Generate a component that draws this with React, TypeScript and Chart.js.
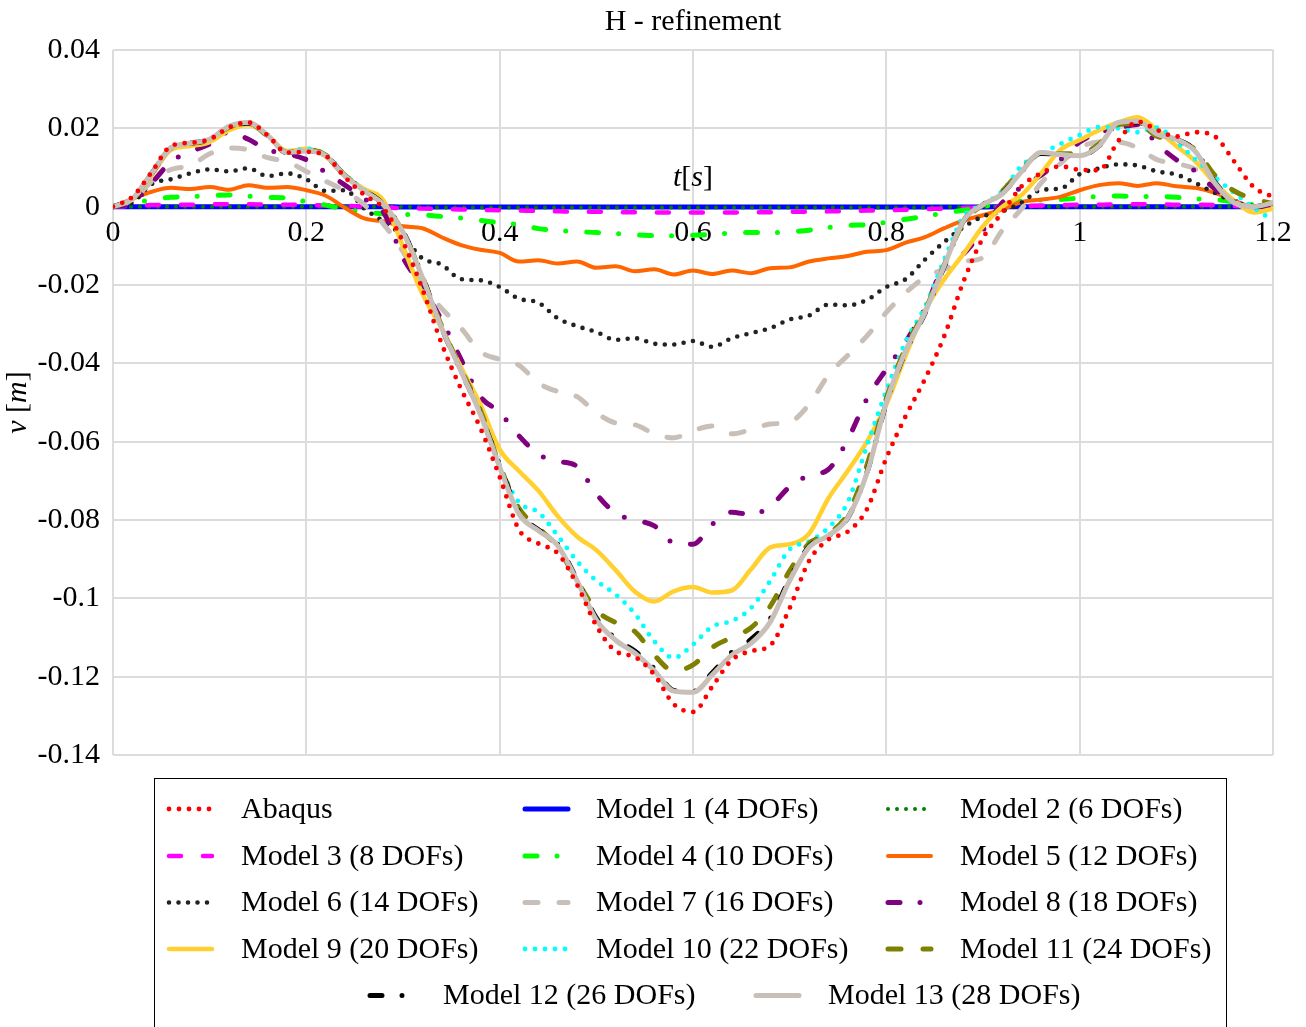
import React, { useEffect, useRef } from "react";
import { Chart, registerables } from "chart.js";

Chart.register(...registerables);

// ---------------- DATA ----------------
const TIME = [
  0, 0.02, 0.04, 0.06, 0.08, 0.1, 0.12, 0.14, 0.16, 0.18,
  0.2, 0.22, 0.24, 0.26, 0.28, 0.3, 0.32, 0.34, 0.36, 0.38,
  0.4, 0.42, 0.44, 0.46, 0.48, 0.5, 0.52, 0.54, 0.56, 0.58,
  0.6, 0.62, 0.64, 0.66, 0.68, 0.7, 0.72, 0.74, 0.76, 0.78,
  0.8, 0.82, 0.84, 0.86, 0.88, 0.9, 0.92, 0.94, 0.96, 0.98,
  1, 1.02, 1.04, 1.06, 1.08, 1.1, 1.12, 1.14, 1.16, 1.18, 1.2,
];

const ABAQUS = [
  0, 0.0025, 0.0088, 0.0155, 0.0163, 0.0172, 0.0202, 0.0215, 0.0182, 0.0138,
  0.014, 0.013, 0.0075, 0.003, -0.0005, -0.009, -0.021, -0.035, -0.0465, -0.0565,
  -0.069, -0.0825, -0.086, -0.0885, -0.0965, -0.107, -0.1135, -0.115, -0.1195, -0.127,
  -0.129, -0.1225, -0.1158, -0.1135, -0.112, -0.1025, -0.0905, -0.085, -0.083, -0.0772,
  -0.0642, -0.0535, -0.044, -0.033, -0.019, -0.008, -0.0015, 0.0052, 0.0085, 0.0103,
  0.0094, 0.0093, 0.0168, 0.0217, 0.0196, 0.0179, 0.019, 0.0179, 0.0115, 0.005, 0.0025,
];

const MODEL_1 = [
  0, 0, 0, 0, 0, 0, 0, 0, 0, 0,
  0, 0, 0, 0, 0, -0.0001, -0.0001, -0.0001, -0.0001, -0.0001,
  -0.0001, -0.0001, -0.0001, -0.0001, -0.0001, -0.0001, -0.0001, -0.0001, -0.0001, -0.0001,
  -0.0001, -0.0001, -0.0001, -0.0001, -0.0001, -0.0001, -0.0001, -0.0001, -0.0001, -0.0001,
  -0.0001, -0.0001, -0.0001, -0.0001, -0.0001, -0.0001, 0, 0, 0, 0,
  0, 0, 0, 0, 0, 0, 0, 0, 0, 0, 0,
];

const MODEL_2 = [
  0, 0, 0, 0, 0, 0, 0, 0, 0, 0,
  0, 0, 0, 0, 0, -0.0001, -0.0001, -0.0002, -0.0002, -0.0002,
  -0.0002, -0.0002, -0.0002, -0.0002, -0.0002, -0.0002, -0.0002, -0.0002, -0.0002, -0.0002,
  -0.0002, -0.0002, -0.0002, -0.0002, -0.0002, -0.0002, -0.0002, -0.0002, -0.0002, -0.0002,
  -0.0002, -0.0002, -0.0002, -0.0001, -0.0001, -0.0001, 0, 0, 0, 0,
  0, 0, 0, 0, 0, 0, 0, 0, 0, 0, 0,
];

const MODEL_3 = [
  0, 0.0002, 0.0004, 0.0005, 0.0005, 0.0006, 0.0006, 0.0006, 0.0005, 0.0005,
  0.0004, 0.0003, 0.0002, 0, -0.0002, -0.0004, -0.0005, -0.0006, -0.0007, -0.0008,
  -0.0009, -0.001, -0.0011, -0.0012, -0.0013, -0.0013, -0.0014, -0.0014, -0.0015, -0.0015,
  -0.0015, -0.0015, -0.0015, -0.0014, -0.0014, -0.0013, -0.0013, -0.0012, -0.0011, -0.001,
  -0.0009, -0.0008, -0.0006, -0.0005, -0.0003, -0.0002, 0, 0.0002, 0.0003, 0.0004,
  0.0005, 0.0005, 0.0006, 0.0006, 0.0006, 0.0005, 0.0005, 0.0004, 0.0002, 0.0001, 0,
];

const MODEL_4 = [
  0, 0.0008, 0.0018, 0.0024, 0.0026, 0.0028, 0.003, 0.0027, 0.0024, 0.0022,
  0.0013, 0.0004, -0.0006, -0.0014, -0.0018, -0.002, -0.0021, -0.0025, -0.0029, -0.0035,
  -0.0041, -0.0046, -0.0056, -0.0061, -0.0064, -0.0066, -0.0069, -0.0072, -0.0074, -0.0074,
  -0.0073, -0.0071, -0.0067, -0.0066, -0.0066, -0.0064, -0.006, -0.0053, -0.0048, -0.0046,
  -0.004, -0.0032, -0.0025, -0.0016, -0.0009, 0, 0.0008, 0.0014, 0.0017, 0.0018,
  0.0022, 0.0026, 0.0027, 0.0026, 0.0026, 0.0024, 0.002, 0.0018, 0.0012, 0.0005, 0,
];

const MODEL_5 = [
  0, 0.002, 0.0038, 0.0048, 0.0045, 0.005, 0.0043, 0.0055, 0.0048, 0.005,
  0.0042, 0.0028, -0.0003, -0.003, -0.0038, -0.005, -0.0055, -0.0078, -0.0098, -0.011,
  -0.0118, -0.014, -0.0137, -0.0145, -0.014, -0.0156, -0.0152, -0.0165, -0.016, -0.0173,
  -0.0163, -0.0172, -0.0163, -0.017, -0.0157, -0.0155, -0.014, -0.0132, -0.0126, -0.0115,
  -0.0111, -0.0092, -0.0078, -0.0055, -0.0035, -0.0022, -0.0007, 0.0012, 0.0018, 0.0025,
  0.0042, 0.0055, 0.006, 0.0053, 0.006, 0.0052, 0.0048, 0.0035, 0.0015, 0, 0.001,
];

const MODEL_6 = [
  0, 0.001, 0.0058, 0.007, 0.0085, 0.0095, 0.009, 0.0098, 0.0078, 0.0085,
  0.007, 0.004, 0.0042, -0.0005, -0.0038, -0.0075, -0.0132, -0.0148, -0.0185, -0.0188,
  -0.0205, -0.0235, -0.0245, -0.0285, -0.0305, -0.032, -0.034, -0.0336, -0.035, -0.0352,
  -0.0343, -0.0358, -0.0336, -0.0323, -0.031, -0.0288, -0.0278, -0.025, -0.0252, -0.0238,
  -0.0205, -0.0185, -0.0135, -0.009, -0.0052, -0.0025, -0.0012, 0.001, 0.0043, 0.0046,
  0.0083, 0.0098, 0.0108, 0.0105, 0.009, 0.0082, 0.006, 0.0035, 0.0012, 0.0002, 0,
];

const MODEL_7 = [
  0, 0.0015, 0.0065, 0.0095, 0.0105, 0.0135, 0.015, 0.0145, 0.0125, 0.0115,
  0.009, 0.0065, 0.004, 0.0005, -0.0045, -0.0115, -0.02, -0.026, -0.031, -0.037,
  -0.039, -0.0405, -0.045, -0.0472, -0.0485, -0.0526, -0.0552, -0.0557, -0.058, -0.059,
  -0.0572, -0.056, -0.058, -0.0569, -0.0555, -0.055, -0.0505, -0.043, -0.038, -0.033,
  -0.027, -0.022, -0.018, -0.016, -0.014, -0.013, -0.006, -0.0005, 0.006, 0.011,
  0.015, 0.0165, 0.0165, 0.015, 0.012, 0.011, 0.0095, 0.005, 0.001, 0, 0,
];

const MODEL_8 = [
  0, 0.001, 0.006, 0.0115, 0.014, 0.016, 0.019, 0.0172, 0.0145, 0.0135,
  0.012, 0.0088, 0.0055, 0.002, -0.0015, -0.013, -0.0205, -0.029, -0.039, -0.0485,
  -0.0525, -0.0585, -0.0632, -0.065, -0.0663, -0.0733, -0.0783, -0.08, -0.0815, -0.0858,
  -0.0862, -0.0811, -0.078, -0.0786, -0.0765, -0.0715, -0.0686, -0.0671, -0.0595, -0.049,
  -0.0415, -0.0345, -0.026, -0.015, -0.012, -0.006, 0.001, 0.005, 0.008, 0.012,
  0.0165, 0.0189, 0.02, 0.021, 0.016, 0.012, 0.009, 0.0045, 0.0015, 0, 0,
];

const MODEL_9 = [
  0, 0.0018, 0.008, 0.0145, 0.0155, 0.0165, 0.0195, 0.021, 0.0182, 0.0142,
  0.0148, 0.0128, 0.0078, 0.0045, 0.0015, -0.0102, -0.0222, -0.031, -0.041, -0.0505,
  -0.062, -0.0675, -0.0725, -0.079, -0.0842, -0.0877, -0.0928, -0.0983, -0.1008, -0.0982,
  -0.0971, -0.0985, -0.098, -0.0926, -0.087, -0.0862, -0.0835, -0.0745, -0.0675, -0.06,
  -0.0505, -0.038, -0.0265, -0.0185, -0.012, -0.005, 0, 0.003, 0.0085, 0.0145,
  0.017, 0.0195, 0.0215, 0.0228, 0.0196, 0.0155, 0.0115, 0.006, 0.0015, -0.0015, -0.0005,
];

const MODEL_10 = [
  0, 0.002, 0.0085, 0.015, 0.0161, 0.0172, 0.0204, 0.0214, 0.0182, 0.014,
  0.0148, 0.0133, 0.0082, 0.0042, 0.0005, -0.0068, -0.0185, -0.031, -0.042, -0.0525,
  -0.066, -0.0755, -0.078, -0.084, -0.0905, -0.0955, -0.099, -0.104, -0.111, -0.1152,
  -0.1118, -0.1072, -0.1058, -0.1025, -0.0955, -0.0875, -0.0855, -0.082, -0.0755, -0.061,
  -0.047, -0.0345, -0.0255, -0.0135, -0.0025, 0.0005, 0.004, 0.0105, 0.0135, 0.016,
  0.0183, 0.0203, 0.02, 0.019, 0.0202, 0.0165, 0.012, 0.0075, 0.0035, -0.0003, -0.0035,
];

const MODEL_11 = [
  0, 0.002, 0.0085, 0.015, 0.0161, 0.0171, 0.0203, 0.0213, 0.018, 0.0138,
  0.0145, 0.0132, 0.008, 0.0042, 0.0006, -0.0065, -0.0178, -0.0305, -0.0415, -0.052,
  -0.066, -0.077, -0.082, -0.087, -0.0955, -0.103, -0.1062, -0.1085, -0.1145, -0.1185,
  -0.117, -0.1125, -0.11, -0.1075, -0.102, -0.093, -0.086, -0.0835, -0.0785, -0.066,
  -0.049, -0.036, -0.0265, -0.0148, -0.004, 0.0005, 0.004, 0.0095, 0.0135, 0.0135,
  0.0135, 0.016, 0.021, 0.0212, 0.018, 0.017, 0.0145, 0.008, 0.004, 0.002, 0.0008,
];

const MODEL_12 = [
  0, 0.002, 0.0085, 0.015, 0.0162, 0.0172, 0.0205, 0.0213, 0.0182, 0.0138,
  0.0142, 0.013, 0.0079, 0.0042, 0.0005, -0.0063, -0.0178, -0.031, -0.042, -0.0528,
  -0.066, -0.078, -0.0825, -0.0862, -0.0952, -0.105, -0.1103, -0.1135, -0.118, -0.1235,
  -0.1238, -0.119, -0.1138, -0.1105, -0.1052, -0.095, -0.0868, -0.084, -0.0795, -0.0678,
  -0.0502, -0.037, -0.0272, -0.0152, -0.0036, 0.0005, 0.0034, 0.009, 0.0136, 0.0133,
  0.013, 0.0155, 0.0213, 0.0216, 0.0185, 0.0172, 0.0142, 0.0062, 0.0012, 0, 0.001,
];

const MODEL_13 = [
  0, 0.002, 0.0085, 0.015, 0.0162, 0.0172, 0.0205, 0.0215, 0.0182, 0.0138,
  0.0142, 0.013, 0.0078, 0.004, 0.0005, -0.0065, -0.018, -0.031, -0.042, -0.053,
  -0.0665, -0.0785, -0.0827, -0.0865, -0.0955, -0.1055, -0.1107, -0.114, -0.1185, -0.1237,
  -0.124, -0.1195, -0.1145, -0.1115, -0.106, -0.0955, -0.087, -0.084, -0.0795, -0.068,
  -0.05, -0.0368, -0.027, -0.015, -0.0035, 0.0005, 0.0033, 0.009, 0.0138, 0.0133,
  0.013, 0.0155, 0.0215, 0.0218, 0.0185, 0.0172, 0.014, 0.006, 0.001, 0, 0.001,
];

const X_TICKS = { min: 0, max: 1.2, step: 0.2 };
const Y_TICKS = { min: -0.14, max: 0.04, step: 0.02 };

const TITLE = "H - refinement";

// ---------------- STYLES ----------------
type SeriesStyle = {
  label: string;
  data: number[];
  color: string;
  width: number;
  dash: number[];
};

const SERIES: SeriesStyle[] = [
  { label: "Abaqus", data: ABAQUS, color: "#ff0000", width: 4.8, dash: [0, 10] },
  { label: "Model 1 (4 DOFs)", data: MODEL_1, color: "#0000ff", width: 5, dash: [] },
  { label: "Model 2 (6 DOFs)", data: MODEL_2, color: "#008000", width: 4, dash: [0, 9] },
  { label: "Model 3 (8 DOFs)", data: MODEL_3, color: "#ff00ff", width: 4.5, dash: [12, 22] },
  { label: "Model 4 (10 DOFs)", data: MODEL_4, color: "#00ff00", width: 5, dash: [12, 20, 0, 21] },
  { label: "Model 5 (12 DOFs)", data: MODEL_5, color: "#ff6600", width: 4, dash: [] },
  { label: "Model 6 (14 DOFs)", data: MODEL_6, color: "#222222", width: 4.6, dash: [0, 9.5] },
  { label: "Model 7 (16 DOFs)", data: MODEL_7, color: "#c8bfb8", width: 5, dash: [13, 21] },
  { label: "Model 8 (18 DOFs)", data: MODEL_8, color: "#800080", width: 5, dash: [12, 20, 0, 21] },
  { label: "Model 9 (20 DOFs)", data: MODEL_9, color: "#ffd02f", width: 4.5, dash: [] },
  { label: "Model 10 (22 DOFs)", data: MODEL_10, color: "#00ffff", width: 4.8, dash: [0, 10] },
  { label: "Model 11 (24 DOFs)", data: MODEL_11, color: "#808000", width: 5, dash: [13, 22] },
  { label: "Model 12 (26 DOFs)", data: MODEL_12, color: "#000000", width: 5, dash: [12, 20, 0, 21] },
  { label: "Model 13 (28 DOFs)", data: MODEL_13, color: "#c8bfb8", width: 5, dash: [] },
];

const FONT_FAMILY = '"Liberation Serif", "Times New Roman", serif';
const FONT_SIZE = 30;

const LEGEND_ROWS = [809, 856, 902.5, 949, 995.5];
const LEGEND_COLS = [
  { sx: 169, tx: 241 },
  { sx: 525, tx: 596 },
  { sx: 888, tx: 960 },
];
const LEGEND_LAST = [
  { sx: 370, tx: 443 },
  { sx: 756, tx: 828 },
];
const SAMPLE_LEN = 43;

const fmt = (v: number, d: number) => {
  const n = Number(v.toFixed(d));
  return (n === 0 ? 0 : n).toString();
};

const drawPieces = (
  ctx: CanvasRenderingContext2D,
  pieces: { t: string; italic: boolean }[],
  cx: number,
  cy: number
) => {
  const fonts = pieces.map(
    (p) => `${p.italic ? "italic " : ""}${FONT_SIZE}px ${FONT_FAMILY}`
  );
  const widths = pieces.map((p, i) => {
    ctx.font = fonts[i];
    return ctx.measureText(p.t).width;
  });
  const total = widths.reduce((a, b) => a + b, 0);
  let x = cx - total / 2;
  ctx.textAlign = "left";
  ctx.textBaseline = "middle";
  pieces.forEach((p, i) => {
    ctx.font = fonts[i];
    ctx.fillText(p.t, x, cy);
    x += widths[i];
  });
};

const decorPlugin = {
  id: "decor",
  afterDraw(chart: any) {
    const ctx: CanvasRenderingContext2D = chart.ctx;
    const area = chart.chartArea;
    const cx = (area.left + area.right) / 2;
    ctx.save();
    ctx.fillStyle = "#000";
    ctx.font = `${FONT_SIZE}px ${FONT_FAMILY}`;
    ctx.textAlign = "center";
    ctx.textBaseline = "middle";
    ctx.fillText(TITLE, cx, 22);
    const y0 = chart.scales.y.getPixelForValue(0);
    drawPieces(
      ctx,
      [
        { t: "t", italic: true },
        { t: "[", italic: false },
        { t: "s", italic: true },
        { t: "]", italic: false },
      ],
      cx,
      y0 - 29
    );
    ctx.save();
    ctx.translate(18, (area.top + area.bottom) / 2);
    ctx.rotate(-Math.PI / 2);
    drawPieces(
      ctx,
      [
        { t: "v", italic: true },
        { t: " [", italic: false },
        { t: "m", italic: true },
        { t: "]", italic: false },
      ],
      0,
      0
    );
    ctx.restore();

    ctx.strokeStyle = "#000";
    ctx.lineWidth = 1;
    ctx.strokeRect(154.5, 778.5, 1072, 320);

    const drawItem = (s: SeriesStyle, sx: number, tx: number, y: number) => {
      ctx.save();
      ctx.strokeStyle = s.color;
      ctx.lineWidth = s.width;
      ctx.lineCap = "round";
      ctx.setLineDash(s.dash);
      ctx.beginPath();
      ctx.moveTo(sx, y);
      ctx.lineTo(sx + SAMPLE_LEN, y);
      ctx.stroke();
      ctx.restore();
      ctx.fillStyle = "#000";
      ctx.font = `${FONT_SIZE}px ${FONT_FAMILY}`;
      ctx.textAlign = "left";
      ctx.textBaseline = "middle";
      ctx.fillText(s.label, tx, y + 1);
    };
    for (let r = 0; r < 4; r++) {
      for (let c = 0; c < 3; c++) {
        const idx = r * 3 + c;
        drawItem(SERIES[idx], LEGEND_COLS[c].sx, LEGEND_COLS[c].tx, LEGEND_ROWS[r]);
      }
    }
    drawItem(SERIES[12], LEGEND_LAST[0].sx, LEGEND_LAST[0].tx, LEGEND_ROWS[4]);
    drawItem(SERIES[13], LEGEND_LAST[1].sx, LEGEND_LAST[1].tx, LEGEND_ROWS[4]);
    ctx.restore();
  },
};

export default function App() {
  const ref = useRef<HTMLCanvasElement | null>(null);

  useEffect(() => {
    if (!ref.current) return;
    const datasets = SERIES.map((s, i) => ({
      label: s.label,
      data: TIME.map((t, k) => ({ x: t, y: s.data[k] })),
      borderColor: s.color,
      backgroundColor: s.color,
      borderWidth: s.width,
      borderDash: s.dash,
      borderCapStyle: "round" as const,
      borderJoinStyle: "round" as const,
      pointRadius: 0,
      pointHoverRadius: 0,
      fill: false,
      cubicInterpolationMode: "monotone" as const,
      order: i === 0 ? 0 : 14 - i,
    }));

    const chart = new Chart(ref.current, {
      type: "line",
      data: { datasets },
      options: {
        animation: false,
        responsive: false,
        devicePixelRatio: 1,
        events: [],
        layout: { padding: { top: 50, right: 33, bottom: 272, left: 0 } },
        plugins: {
          legend: { display: false },
          tooltip: { enabled: false },
          title: { display: false },
        },
        scales: {
          x: {
            type: "linear",
            position: { y: 0 } as any,
            min: X_TICKS.min,
            max: X_TICKS.max,
            border: { display: false },
            grid: { color: "#dcdcdc", lineWidth: 2, drawTicks: false },
            ticks: {
              stepSize: X_TICKS.step,
              autoSkip: false,
              maxRotation: 0,
              padding: 8,
              color: "#000",
              font: { family: FONT_FAMILY, size: FONT_SIZE },
              callback: (v: any) => fmt(Number(v), 1),
            },
          },
          y: {
            type: "linear",
            min: Y_TICKS.min,
            max: Y_TICKS.max,
            border: { display: false },
            grid: { color: "#dcdcdc", lineWidth: 2, drawTicks: false },
            ticks: {
              stepSize: Y_TICKS.step,
              autoSkip: false,
              padding: 13,
              color: "#000",
              font: { family: FONT_FAMILY, size: FONT_SIZE },
              callback: (v: any) => fmt(Number(v), 2),
            },
            afterFit: (scale: any) => {
              scale.width = 113;
            },
          },
        },
      },
      plugins: [decorPlugin],
    });
    return () => chart.destroy();
  }, []);

  return (
    <div style={{ position: "absolute", left: 0, top: 0, width: 1306, height: 1027, background: "#fff" }}>
      <canvas ref={ref} width={1306} height={1027} style={{ display: "block" }} />
    </div>
  );
}
